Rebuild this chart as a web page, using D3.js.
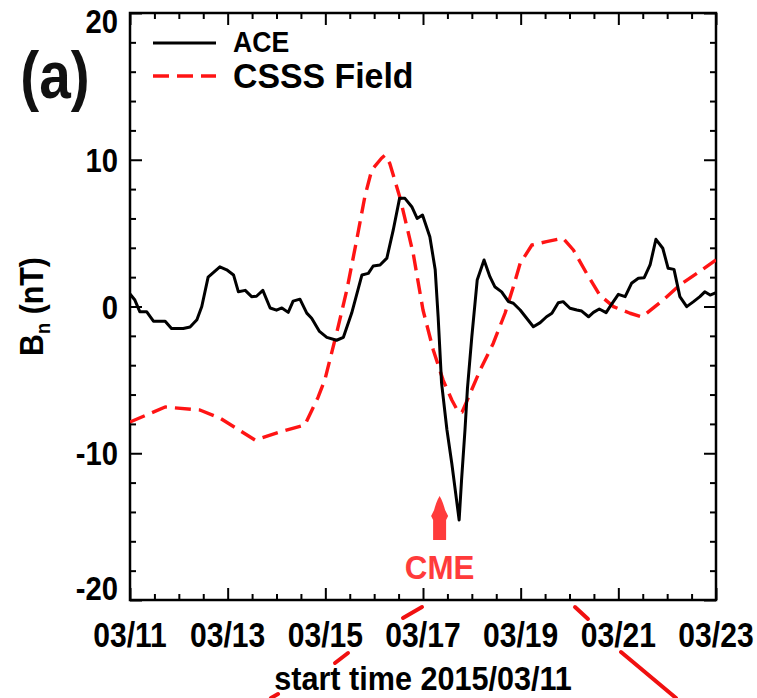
<!DOCTYPE html>
<html>
<head>
<meta charset="utf-8">
<script src="https://cdn.jsdelivr.net/npm/d3@7"></script>
<style>
  html, body { margin: 0; padding: 0; background: #fff; }
  svg { display: block; }
  text { font-family: "Liberation Sans", Arial, Helvetica, sans-serif; font-weight: bold; }
</style>
</head>
<body>
<svg id="chart" width="757" height="698"></svg>
<script>
// Start of the interval (UTC) and time offsets in days
const startDay = Date.UTC(2015, 2, 11);

// ACE in-situ Bn (nT)
const aceDays = [0, 0.10, 0.20, 0.34, 0.48, 0.72, 0.85, 1.09, 1.23, 1.37, 1.47, 1.60, 1.84, 1.98, 2.12, 2.22,
  2.36, 2.49, 2.59, 2.72, 2.87, 3.00, 3.11, 3.24, 3.34, 3.48, 3.62, 3.72, 3.88, 4.03, 4.23, 4.37, 4.54,
  4.75, 4.88, 4.98, 5.12, 5.26, 5.39, 5.52, 5.63, 5.77, 5.88, 5.99, 6.14, 6.25, 6.31, 6.38, 6.49, 6.59,
  6.74, 6.79, 6.86, 6.91, 7.00, 7.11, 7.25, 7.37, 7.47, 7.61, 7.75, 7.85, 7.99, 8.26, 8.40, 8.53, 8.64,
  8.77, 8.87, 9.01, 9.15, 9.25, 9.39, 9.49, 9.61, 9.75, 9.86, 10.00, 10.14, 10.27, 10.41, 10.53, 10.65,
  10.77, 10.91, 11.02, 11.14, 11.26, 11.40, 11.54, 11.67, 11.77, 11.88, 12.00];
const aceBn = [0.85, 0.44, -0.35, -0.35, -1.0, -1.0, -1.5, -1.5, -1.4, -0.9, 0.0, 2.0, 2.7, 2.5, 2.15, 1.0,
  1.1, 0.67, 0.7, 1.1, -0.1, -0.25, -0.1, -0.4, 0.37, 0.5, -0.45, -0.8, -1.7, -2.1, -2.3, -2.1, -0.45,
  2.15, 2.26, 2.76, 2.83, 3.3, 5.2, 7.37, 7.37, 6.8, 6.0, 6.23, 4.76, 2.5, -0.7, -5.2, -8.4, -10.7,
  -14.55, -11.8, -8.4, -5.6, -2.05, 1.8, 3.17, 2.03, 1.35, 1.0, 0.33, 0.22, -0.24, -1.38, -1.1, -0.7, -0.46,
  0.26, 0.33, -0.12, -0.24, -0.31, -0.7, -0.4, -0.17, -0.42, 0.15, 0.83, 0.67, 1.58, 1.92, 1.96, 2.83,
  4.58, 3.97, 2.6, 2.53, 0.67, -0.01, 0.33, 0.67, 1.0, 0.78, 0.94];

// CSSS model field Bn (nT)
const csssDays = [0, 0.72, 1.43, 1.84, 2.56, 3.07, 3.58, 3.85, 3.99, 4.23, 4.44, 4.64, 4.81, 4.95, 5.15,
  5.22, 5.32, 5.53, 5.80, 6.00, 6.21, 6.41, 6.59, 6.72, 6.80, 6.93, 7.17, 7.44, 7.68, 7.85, 7.99, 8.23,
  8.53, 8.87, 9.08, 9.35, 9.62, 9.90, 10.24, 10.48, 10.58, 10.92, 11.26, 11.61, 12.00];
const csssBn = [-7.87, -6.85, -7.05, -7.6, -9.1, -8.55, -8.07, -6.2, -5.0, -1.83, 1.12, 4.5, 7.5, 9.3, 10.1,
  10.3, 9.75, 7.4, 3.6, -0.24, -2.96, -5.0, -6.37, -7.17, -7.2, -6.2, -4.33, -2.5, -0.46, 1.35, 2.94, 4.19,
  4.42, 4.65, 3.85, 2.26, 0.78, -0.01, -0.46, -0.7, -0.46, 0.44, 1.47, 2.26, 3.17];

// Axis ticks and labels
const xTickDays = [0, 2, 4, 6, 8, 10, 12];
const xTickLabels = ["03/11", "03/13", "03/15", "03/17", "03/19", "03/21", "03/23"];
const yTickValues = [-20, -10, 0, 10, 20];
const yTickLabels = ["-20", "-10", "0", "10", "20"];

// CME arrival marker (days from start)
const cmeDay = 6.34;

const seriesNames = ["ACE", "CSSS Field"];

const dayToDate = d => new Date(startDay + d * 864e5);

const W = 757, H = 698;
const plot = { left: 130, right: 716, top: 13, bottom: 600 };
const RED = "#ff1414";
const CME_RED = "#ff3b3b";
const NARROW = 0.86;   // horizontal squeeze for the tall, narrow lettering

const svg = d3.select("#chart");
svg.append("rect").attr("width", W).attr("height", H).attr("fill", "#fff");

const x = d3.scaleUtc()
  .domain([dayToDate(0), dayToDate(12)])
  .range([plot.left, plot.right]);
const y = d3.scaleLinear()
  .domain([-20, 20])
  .range([plot.bottom, plot.top]);

// Tick marks on all four sides, pointing inward
const majorX = xTickDays.map(dayToDate);
const minorX = d3.range(0, 12.001, 0.5).filter(d => d % 2 !== 0).map(dayToDate);
const minorY = d3.range(-20, 20.001, 2).filter(v => v % 10 !== 0);

function tickGroup(axis, transform) {
  const g = svg.append("g").attr("transform", transform).call(axis);
  g.select(".domain").remove();
  g.selectAll("text").remove();
  g.selectAll("line").attr("stroke", "#000").attr("stroke-width", 2);
  return g;
}
const bigT = 12, smallT = 6;
tickGroup(d3.axisBottom(x).tickValues(majorX).tickSize(-bigT), `translate(0,${plot.bottom})`);
tickGroup(d3.axisBottom(x).tickValues(minorX).tickSize(-smallT), `translate(0,${plot.bottom})`);
tickGroup(d3.axisTop(x).tickValues(majorX).tickSize(-bigT), `translate(0,${plot.top})`);
tickGroup(d3.axisTop(x).tickValues(minorX).tickSize(-smallT), `translate(0,${plot.top})`);
tickGroup(d3.axisLeft(y).tickValues(yTickValues).tickSize(-bigT), `translate(${plot.left},0)`);
tickGroup(d3.axisLeft(y).tickValues(minorY).tickSize(-smallT), `translate(${plot.left},0)`);
tickGroup(d3.axisRight(y).tickValues(yTickValues).tickSize(-bigT), `translate(${plot.right},0)`);
tickGroup(d3.axisRight(y).tickValues(minorY).tickSize(-smallT), `translate(${plot.right},0)`);

// Frame
svg.append("rect")
  .attr("x", plot.left).attr("y", plot.top)
  .attr("width", plot.right - plot.left).attr("height", plot.bottom - plot.top)
  .attr("fill", "none").attr("stroke", "#000").attr("stroke-width", 2.5);

// Tick labels
svg.append("g").selectAll("text")
  .data(xTickDays)
  .join("text")
  .attr("transform", d => `translate(${x(dayToDate(d))},647) scale(${NARROW},1)`)
  .attr("text-anchor", "middle")
  .attr("font-size", 35)
  .attr("fill", "#000")
  .text((d, i) => xTickLabels[i]);

svg.append("g").selectAll("text")
  .data(yTickValues)
  .join("text")
  .attr("transform", v => `translate(118,${Math.max(21, Math.min(588, y(v))) + 12}) scale(${NARROW},1)`)
  .attr("text-anchor", "end")
  .attr("font-size", 34)
  .attr("fill", "#000")
  .text((v, i) => yTickLabels[i]);

// Axis titles
svg.append("text")
  .attr("transform", `translate(${(plot.left + plot.right) / 2},690) scale(0.9,1)`)
  .attr("text-anchor", "middle")
  .attr("font-size", 34)
  .attr("fill", "#000")
  .text("start time 2015/03/11");

const yTitle = svg.append("text")
  .attr("transform", `translate(43,${(plot.top + plot.bottom) / 2}) rotate(-90) scale(0.92,1)`)
  .attr("text-anchor", "middle")
  .attr("font-size", 33)
  .attr("fill", "#000");
yTitle.append("tspan").text("B");
yTitle.append("tspan").attr("font-size", 20).attr("dy", 7).text("n");
yTitle.append("tspan").attr("dy", -7).text(" (nT)");

// Panel label
svg.append("text")
  .attr("transform", "translate(55,98) scale(0.86,1)")
  .attr("text-anchor", "middle")
  .attr("font-size", 66)
  .attr("fill", "#111")
  .text("(a)");

// Series lines
svg.append("clipPath").attr("id", "plot-clip")
  .append("rect")
  .attr("x", plot.left).attr("y", plot.top)
  .attr("width", plot.right - plot.left).attr("height", plot.bottom - plot.top);

const line = d3.line()
  .x(d => x(dayToDate(d[0])))
  .y(d => y(d[1]))
  .curve(d3.curveLinear);

svg.append("path")
  .datum(csssDays.map((d, i) => [d, csssBn[i]]))
  .attr("clip-path", "url(#plot-clip)")
  .attr("d", line)
  .attr("fill", "none")
  .attr("stroke", RED)
  .attr("stroke-width", 3.4)
  .attr("stroke-dasharray", "16,8")
  .attr("stroke-linejoin", "round");

svg.append("path")
  .datum(aceDays.map((d, i) => [d, aceBn[i]]))
  .attr("clip-path", "url(#plot-clip)")
  .attr("d", line)
  .attr("fill", "none")
  .attr("stroke", "#000")
  .attr("stroke-width", 3)
  .attr("stroke-linejoin", "round");

// Legend
const legend = svg.append("g");
legend.append("line")
  .attr("x1", 153).attr("x2", 216).attr("y1", 43).attr("y2", 43)
  .attr("stroke", "#000").attr("stroke-width", 3);
legend.append("text")
  .attr("transform", "translate(233,52) scale(0.92,1)")
  .attr("font-size", 29).attr("fill", "#000")
  .text(seriesNames[0]);
legend.append("line")
  .attr("x1", 153).attr("x2", 216).attr("y1", 76).attr("y2", 76)
  .attr("stroke", RED).attr("stroke-width", 3.4)
  .attr("stroke-dasharray", "16,8");
legend.append("text")
  .attr("transform", "translate(233,88) scale(0.94,1)")
  .attr("font-size", 36).attr("fill", "#000")
  .text(seriesNames[1]);

// CME arrival arrow and label
const cx = x(dayToDate(cmeDay));
const arrow = d3.path();
arrow.moveTo(cx, 496);
arrow.bezierCurveTo(cx + 2.5, 500, cx + 4.5, 506, cx + 5.5, 510);
arrow.lineTo(cx + 8.5, 516);
arrow.lineTo(cx + 6.5, 520);
arrow.lineTo(cx + 6.5, 540);
arrow.lineTo(cx - 6.5, 540);
arrow.lineTo(cx - 6.5, 520);
arrow.lineTo(cx - 8.5, 516);
arrow.lineTo(cx - 5.5, 510);
arrow.bezierCurveTo(cx - 4.5, 506, cx - 2.5, 500, cx, 496);
arrow.closePath();
svg.append("path").attr("d", arrow.toString()).attr("fill", CME_RED);
svg.append("text")
  .attr("transform", `translate(${cx},579) scale(0.95,1)`)
  .attr("text-anchor", "middle")
  .attr("font-size", 33)
  .attr("fill", CME_RED)
  .text("CME");

// Connector strokes running out of the panel
const connectors = [
  [[403, 618], [422, 607]],
  [[335, 663], [348, 653]],
  [[271, 698], [278, 694]],
  [[575, 607], [588, 619]],
  [[621, 652], [676, 698]]
];
svg.append("g").selectAll("path")
  .data(connectors)
  .join("path")
  .attr("d", d => d3.line()(d))
  .attr("stroke", "#f01010")
  .attr("stroke-width", 4)
  .attr("stroke-linecap", "round")
  .attr("fill", "none");
</script>
</body>
</html>
